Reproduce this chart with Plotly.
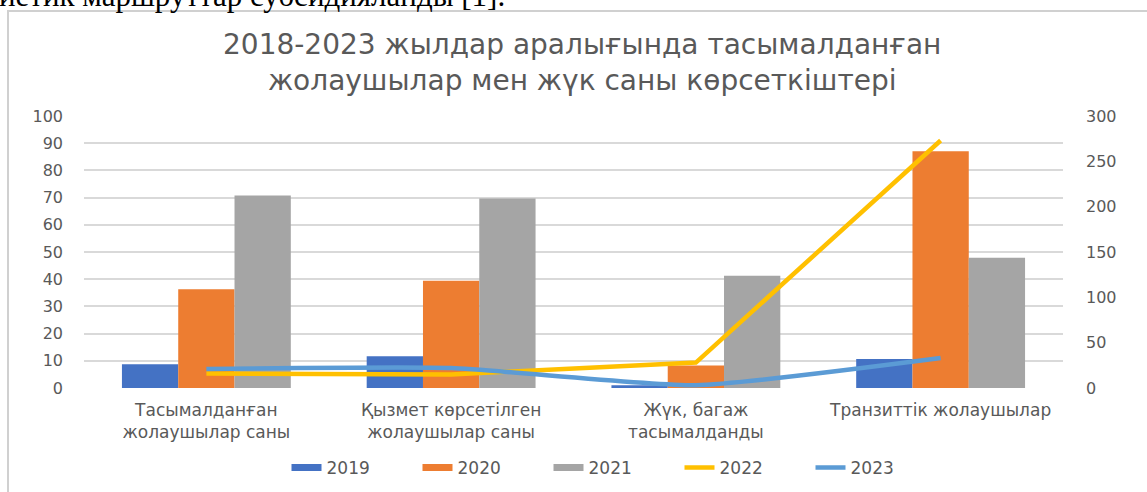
import plotly.graph_objects as go

categories = [
    "Тасымалданған<br>жолаушылар саны",
    "Қызмет көрсетілген<br>жолаушылар саны",
    "Жүк, багаж<br>тасымалданды",
    "Транзиттік жолаушылар",
]
v2019 = [8.7, 11.7, 1.0, 10.7]
v2020 = [36.3, 39.4, 8.3, 87.0]
v2021 = [70.8, 69.7, 41.3, 47.9]
v2022 = [16, 15, 28, 273]
v2023 = [21, 22, 3, 33]

left_ticks = [0, 10, 20, 30, 40, 50, 60, 70, 80, 90, 100]
right_ticks = [0, 50, 100, 150, 200, 250, 300]

title_text = "2018-2023 жылдар аралығында тасымалданған<br>жолаушылар мен жүк саны көрсеткіштері"
doc_text = "иетик маршруттар субсидияланды [1]."

C2019, C2020, C2021, C2022, C2023 = "#4472C4", "#ED7D31", "#A5A5A5", "#FFC000", "#5B9BD5"
TXT = "#595959"
FONT = "DejaVu Sans"

W, H = 1147, 492
ML, MR, MT, MB = 84, 84, 116, 104
PW, PH = W - ML - MR, H - MT - MB


def px_x(p):
    return (p - ML) / PW


def px_y(p):
    return (H - MB - p) / PH


fig = go.Figure()
for name, vals, col in [("2019", v2019, C2019), ("2020", v2020, C2020), ("2021", v2021, C2021)]:
    fig.add_trace(go.Bar(x=categories, y=vals, name=name, marker=dict(color=col, line=dict(width=0)),
                         showlegend=False, yaxis="y"))

fig.add_trace(go.Scatter(x=categories, y=v2022, name="2022", mode="lines",
                         line=dict(color=C2022, width=4.5), yaxis="y2", showlegend=False))
fig.add_trace(go.Scatter(x=categories, y=v2023, name="2023", mode="lines",
                         line=dict(color=C2023, width=4.5, shape="spline", smoothing=0.5),
                         yaxis="y2", showlegend=False))

# legend entries
for name, col, w in [("2019", C2019, 7), ("2020", C2020, 7), ("2021", C2021, 7),
                     ("2022", C2022, 4.5), ("2023", C2023, 4.5)]:
    fig.add_trace(go.Scatter(x=[None], y=[None], name=name, mode="lines",
                             line=dict(color=col, width=w), showlegend=True, yaxis="y2"))

fig.update_layout(
    width=W, height=H,
    margin=dict(l=ML, r=MR, t=MT, b=MB, autoexpand=False),
    paper_bgcolor="white", plot_bgcolor="white",
    font=dict(family=FONT, color=TXT),
    barmode="group", bargap=0.31, bargroupgap=0,
    xaxis=dict(showline=False, showgrid=False, zeroline=False, ticks="", automargin=False,
               ticklabelstandoff=10,
               tickfont=dict(size=17, color=TXT, family=FONT)),
    yaxis=dict(range=[0, 100], tickvals=left_ticks, showgrid=True, gridcolor="#D9D9D9", gridwidth=2,
               zeroline=False, showline=False, ticks="", ticklabelstandoff=20, automargin=False,
               tickfont=dict(size=16, color=TXT, family=FONT)),
    yaxis2=dict(range=[0, 300], tickvals=right_ticks, overlaying="y", side="right", showgrid=False,
                zeroline=False, showline=False, ticks="", ticklabelstandoff=22, automargin=False,
                tickfont=dict(size=16, color=TXT, family=FONT)),
    legend=dict(orientation="h", xref="container", yref="container",
                x=614 / W, xanchor="center", y=1 - 468 / H, yanchor="middle",
                font=dict(size=17, color=TXT, family=FONT), entrywidth=86, itemwidth=30,
                traceorder="normal"),
    showlegend=True,
)

fig.add_shape(type="rect", xref="paper", yref="paper",
              x0=px_x(8), x1=px_x(1170), y0=px_y(11), y1=px_y(520),
              line=dict(color="#D0D0D0", width=2), fillcolor="rgba(0,0,0,0)", layer="below")

fig.add_annotation(text=title_text, xref="paper", yref="paper", x=px_x(582), y=px_y(62.5),
                   xanchor="center", yanchor="middle", align="center", showarrow=False,
                   font=dict(family=FONT, size=28, color=TXT))

fig.add_annotation(text=doc_text, xref="paper", yref="paper", x=px_x(-3), y=px_y(-5),
                   xanchor="left", yanchor="middle", showarrow=False,
                   font=dict(family="Liberation Serif", size=31, color="black"))

fig.write_html("out.html", config={"displayModeBar": False},
               post_script="document.body.style.margin='0px';")
